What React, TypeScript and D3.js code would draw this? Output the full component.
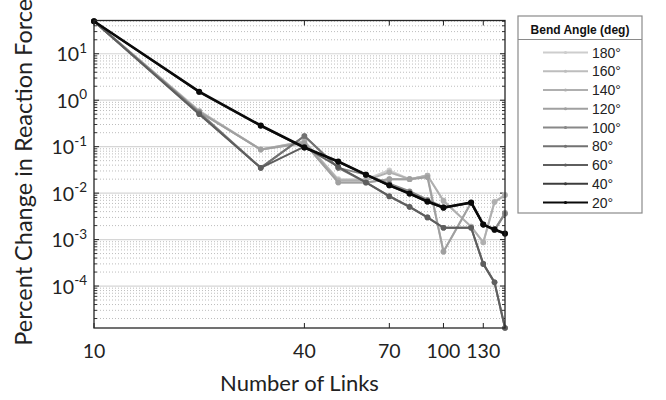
import React from 'react';
import * as d3 from 'd3';

// Number of links in the chain model (x axis)
const links = [10, 20, 30, 40, 50, 60, 70, 80, 90, 100, 120, 130, 140, 150];

// Bend angles, listed as in the legend
const bendAngles = ['180°', '160°', '140°', '120°', '100°', '80°', '60°', '40°', '20°'];
const shades = ['#cdcdcd', '#bdbdbd', '#afafaf', '#a0a0a0', '#888888', '#727272', '#5e5e5e', '#3c3c3c', '#0a0a0a'];

// Percent change in reaction force for each bend angle
const change180 = [50, 0.60, 0.087, 0.13, 0.020, 0.020, 0.031, 0.020, 0.024, 0.0070, 0.0019, 0.00087, 0.0066, 0.0093];
const change160 = [50, 0.58, 0.087, 0.12, 0.017, 0.017, 0.020, 0.020, 0.024, 0.00055, 0.0063, 0.0021, 0.0016, 0.0038];
const change140 = [50, 0.57, 0.087, 0.13, 0.019, 0.019, 0.028, 0.020, 0.024, 0.0068, 0.0019, 0.00087, 0.0064, 0.0090];
const change120 = [50, 0.56, 0.087, 0.12, 0.017, 0.017, 0.020, 0.020, 0.022, 0.00055, 0.0062, 0.0021, 0.0016, 0.0037];
const change100 = [50, 0.55, 0.035, 0.17, 0.035, 0.025, 0.016, 0.011, 0.0072, 0.0050, 0.0062, 0.0021, 0.0016, 0.0036];
const change80 = [50, 0.52, 0.035, 0.17, 0.035, 0.017, 0.0085, 0.0050, 0.0030, 0.0018, 0.0018, 0.00030, 0.00012, 0.0000125];
const change60 = [50, 0.50, 0.035, 0.10, 0.037, 0.017, 0.0086, 0.0051, 0.0030, 0.0018, 0.0018, 0.00030, 0.00012, 0.0000125];
const change40 = [50, 1.50, 0.28, 0.095, 0.047, 0.025, 0.0146, 0.0097, 0.0065, 0.0048, 0.0062, 0.0021, 0.0016, 0.00133];
const change20 = [50, 1.53, 0.286, 0.096, 0.048, 0.025, 0.0147, 0.0098, 0.0066, 0.0049, 0.0063, 0.0021, 0.00166, 0.00135];

const seriesValues = [change180, change160, change140, change120, change100, change80, change60, change40, change20];

const xTickValues = [10, 40, 70, 100, 130];
const yDecades = [-4, -3, -2, -1, 0, 1];

const tickFont = 'Lato, "Open Sans", sans-serif';
const legendFont = '"Liberation Sans", Arial, sans-serif';

export default function App() {
  const W = 666;
  const H = 400;
  const left = 94, right = 505, top = 20.5, bottom = 328;

  const x = d3.scaleLog().domain([10, 150]).range([left, right]);
  const y = d3.scaleLog().domain([1.25e-5, 52]).range([bottom, top]);

  const line = d3.line<number>()
    .x((_, i) => x(links[i]))
    .y(d => y(d));

  const [yMin, yMax] = y.domain();
  const minorValues: number[] = [];
  for (let n = -6; n <= 2; n++) {
    for (let k = 2; k <= 9; k++) {
      const v = k * Math.pow(10, n);
      if (v > yMin && v < yMax) minorValues.push(v);
    }
  }
  const majorValues = yDecades.map(p => Math.pow(10, p));

  const legendX0 = 518, legendX1 = 642, legendY0 = 16, legendY1 = 213;
  const itemY0 = 52.5, itemStep = 18.75;

  return (
    <svg width={W} height={H} style={{ position: 'absolute', left: 0, top: 0, display: 'block', background: '#fff' }}>
      {/* minor grid */}
      {minorValues.map((v, i) => (
        <line key={'mg' + i} x1={left} x2={right} y1={y(v)} y2={y(v)}
          stroke="#bdbdbd" strokeWidth={1} strokeDasharray="1,2" />
      ))}
      {/* major grid */}
      {majorValues.map((v, i) => (
        <line key={'Mg' + i} x1={left} x2={right} y1={y(v)} y2={y(v)}
          stroke="#d6d6d6" strokeWidth={1.2} />
      ))}

      {/* y ticks, both sides */}
      {minorValues.map((v, i) => (
        <g key={'mt' + i}>
          <line x1={left} x2={left + 3} y1={y(v)} y2={y(v)} stroke="#333" strokeWidth={1} />
          <line x1={right} x2={right - 3} y1={y(v)} y2={y(v)} stroke="#333" strokeWidth={1} />
        </g>
      ))}
      {majorValues.map((v, i) => (
        <g key={'Mt' + i}>
          <line x1={left} x2={left + 5} y1={y(v)} y2={y(v)} stroke="#222" strokeWidth={1} />
          <line x1={right} x2={right - 5} y1={y(v)} y2={y(v)} stroke="#222" strokeWidth={1} />
        </g>
      ))}
      {/* x ticks, both sides */}
      {xTickValues.map((v, i) => (
        <g key={'xt' + i}>
          <line x1={x(v)} x2={x(v)} y1={bottom} y2={bottom - 5} stroke="#222" strokeWidth={1} />
          <line x1={x(v)} x2={x(v)} y1={top} y2={top + 5} stroke="#222" strokeWidth={1} />
        </g>
      ))}

      {/* data */}
      {seriesValues.map((vals, s) => (
        <g key={'s' + s}>
          <path d={line(vals) || ''} fill="none" stroke={shades[s]}
            strokeWidth={s === seriesValues.length - 1 ? 2.6 : 2} strokeLinejoin="round" />
          {vals.map((v, i) => (
            <circle key={i} cx={x(links[i])} cy={y(v)} r={s === seriesValues.length - 1 ? 3 : 2.8} fill={shades[s]} />
          ))}
        </g>
      ))}

      {/* axes box */}
      <rect x={left} y={top} width={right - left} height={bottom - top} fill="none" stroke="#262626" strokeWidth={1.3} />

      {/* y tick labels */}
      {yDecades.map((p, i) => (
        <text key={'yl' + i} x={left - 7} y={y(Math.pow(10, p)) + 7.5} textAnchor="end"
          fontFamily={tickFont} fontSize={19.5} fill="#222">
          10<tspan fontSize={13.5} dy={-8.5}>{String(p)}</tspan>
        </text>
      ))}
      {/* x tick labels */}
      {xTickValues.map((v, i) => (
        <text key={'xl' + i} x={x(v)} y={357.5} textAnchor="middle"
          fontFamily={tickFont} fontSize={19.5} fill="#222">{v}</text>
      ))}

      {/* axis titles */}
      <text x={(left + right) / 2} y={391} textAnchor="middle" fontFamily={tickFont} fontSize={22} fill="#222">
        Number of Links
      </text>
      <text transform={`translate(32,${(top + bottom) / 2 - 2}) rotate(-90)`} textAnchor="middle"
        fontFamily={tickFont} fontSize={23.5} fill="#222">
        Percent Change in Reaction Force
      </text>

      {/* legend */}
      <rect x={legendX0} y={legendY0} width={legendX1 - legendX0} height={legendY1 - legendY0}
        fill="#fff" stroke="#8a8a8a" strokeWidth={1.2} />
      <text x={(legendX0 + legendX1) / 2} y={34} textAnchor="middle" fontFamily={legendFont}
        fontWeight="bold" fontSize={12} fill="#111">Bend Angle (deg)</text>
      <line x1={legendX0} x2={legendX1} y1={39.5} y2={39.5} stroke="#8a8a8a" strokeWidth={1} />
      {bendAngles.map((a, i) => {
        const yy = itemY0 + i * itemStep;
        return (
          <g key={'lg' + i}>
            <line x1={543} x2={588} y1={yy} y2={yy} stroke={shades[i]} strokeWidth={2} />
            <circle cx={565.5} cy={yy} r={1.6} fill={shades[i]} />
            <text x={592} y={yy + 5} fontFamily={legendFont} fontSize={14} fill="#222">{a}</text>
          </g>
        );
      })}
    </svg>
  );
}
